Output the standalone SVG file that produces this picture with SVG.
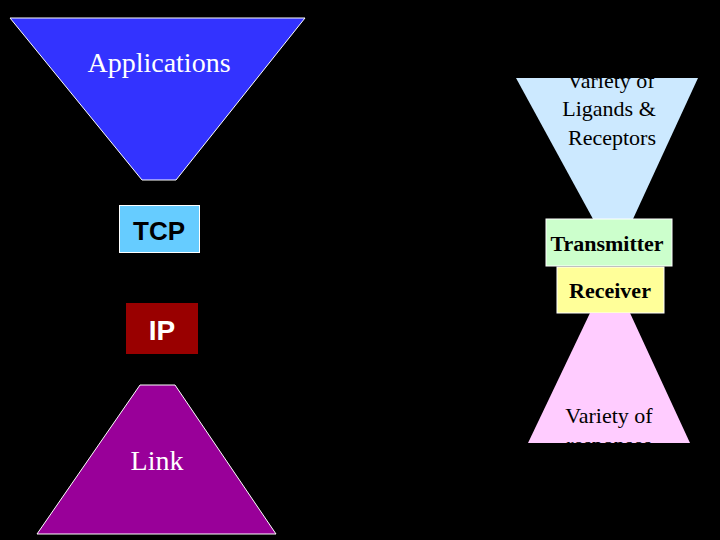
<svg xmlns="http://www.w3.org/2000/svg" width="720" height="540" viewBox="0 0 720 540">
<style>
.s{font-family:"Liberation Serif",serif;font-size:22px;fill:#000;text-anchor:middle}
.a{font-family:"Liberation Sans",sans-serif;font-size:26px;font-weight:bold;text-anchor:middle}
</style>
<defs>
<clipPath id="c1"><rect x="500" y="78" width="210" height="140"/></clipPath>
<clipPath id="c2"><rect x="500" y="313" width="210" height="130"/></clipPath>
</defs>
<rect width="720" height="540" fill="#000"/>
<g id="applications">
<polygon points="10,18 305,18 176,180 142,180" fill="#3333ff" stroke="#fff" stroke-width="1"/>
<text x="159" y="72" class="s" style="fill:#fff;font-size:28px">Applications</text>
</g>
<g id="tcp">
<rect x="119.5" y="205.5" width="80" height="47" fill="#66ccff" stroke="#fff"/>
<text x="159" y="240" class="a" fill="#000">TCP</text>
</g>
<g id="ip">
<rect x="126" y="303" width="72" height="51" fill="#990000"/>
<text x="162" y="340" class="a" fill="#fff" style="font-size:28px">IP</text>
</g>
<g id="link">
<polygon points="140,385 175,385 276,534 37,534" fill="#990099" stroke="#fff" stroke-width="1"/>
<text x="157" y="470" class="s" style="fill:#fff;font-size:28px">Link</text>
</g>
<g id="ligands">
<polygon points="516,78 698,78 633,219 593,219" fill="#cce9ff"/>
<g clip-path="url(#c1)">
<text x="611" y="88" class="s">Variety of</text>
<text x="609" y="116" class="s">Ligands &amp;</text>
<text x="612" y="145" class="s">Receptors</text>
</g>
</g>
<g id="transmitter">
<rect x="546" y="219" width="126" height="47" fill="#ccffcc" stroke="#fff"/>
<text x="607" y="251" class="s" style="font-weight:bold">Transmitter</text>
</g>
<g id="receiver">
<rect x="557" y="267" width="107" height="46" fill="#ffff99" stroke="#fff"/>
<text x="610" y="298" class="s" style="font-weight:bold">Receiver</text>
</g>
<g id="responses">
<polygon points="590,313 630,313 690,443 528,443" fill="#ffccff"/>
<g clip-path="url(#c2)">
<text x="609" y="423" class="s">Variety of</text>
<text x="609" y="452" class="s">responses</text>
</g>
</g>
<g id="connectors"/>
</svg>
